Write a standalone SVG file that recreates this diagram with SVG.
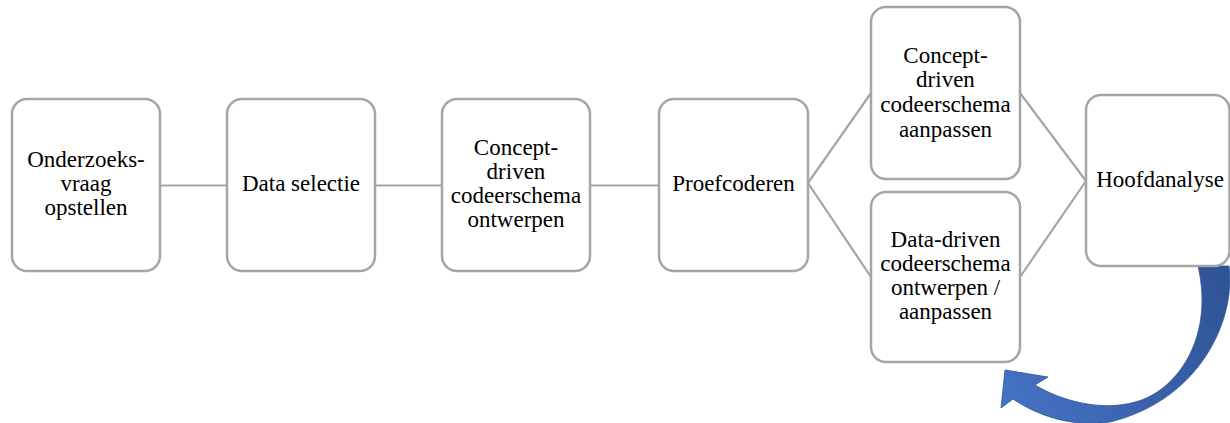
<svg xmlns="http://www.w3.org/2000/svg" width="1230" height="423" viewBox="0 0 1230 423">
<style>
.box{fill:#fff;stroke:#A5A5A5;stroke-width:2.5}
.con{stroke:#A5A5A5;stroke-width:2.2;fill:none}
.t{font-size:23px;fill:#000;text-anchor:middle}
</style>
<defs>
<linearGradient id="g" gradientUnits="userSpaceOnUse" x1="1225" y1="290" x2="1010" y2="400">
<stop offset="0" stop-color="#2F5597"/>
<stop offset="0.5" stop-color="#3A62AC"/>
<stop offset="1" stop-color="#4472C4"/>
</linearGradient>
</defs>
<rect width="1230" height="423" fill="#fff"/>
<g id="connectors">
<line class="con" x1="160" y1="185.5" x2="227" y2="185.5"/>
<line class="con" x1="375" y1="185.5" x2="442" y2="185.5"/>
<line class="con" x1="590" y1="185.5" x2="659" y2="185.5"/>
<line class="con" x1="808" y1="183" x2="871" y2="93"/>
<line class="con" x1="808" y1="183" x2="871" y2="277"/>
<line class="con" x1="1020" y1="93" x2="1086" y2="181"/>
<line class="con" x1="1020" y1="277" x2="1086" y2="181"/>
<path id="loop-arrow" d="M1229,266 C1236,320 1200,400 1110,422 C1070,428 1035,414 1013,399 L1001,408 L1005,370 L1048,377 L1035,385 C1060,400 1100,412 1135,402 C1175,392 1215,340 1198,266 Z" fill="url(#g)" stroke="#2F5597" stroke-width="0.8"/>
</g>
<g font-family="Liberation Serif, DejaVu Serif, serif">
<g id="n1">
<rect class="box" x="12" y="99" width="148" height="172" rx="15"/>
<text class="t" x="86" y="167">Onderzoeks-</text>
<text class="t" x="86" y="191">vraag</text>
<text class="t" x="86" y="215">opstellen</text>
</g>
<g id="n2">
<rect class="box" x="227" y="99" width="148" height="172" rx="15"/>
<text class="t" x="301" y="191">Data selectie</text>
</g>
<g id="n3">
<rect class="box" x="442" y="99" width="148" height="172" rx="15"/>
<text class="t" x="516" y="155">Concept-</text>
<text class="t" x="516" y="179">driven</text>
<text class="t" x="516" y="203">codeerschema</text>
<text class="t" x="516" y="227">ontwerpen</text>
</g>
<g id="n4">
<rect class="box" x="659" y="99" width="149" height="172" rx="15"/>
<text class="t" x="733.5" y="191">Proefcoderen</text>
</g>
<g id="n5">
<rect class="box" x="871" y="7" width="149" height="172" rx="15"/>
<text class="t" x="945.5" y="63">Concept-</text>
<text class="t" x="945.5" y="87">driven</text>
<text class="t" x="945.5" y="112">codeerschema</text>
<text class="t" x="945.5" y="137">aanpassen</text>
</g>
<g id="n6">
<rect class="box" x="871" y="192" width="149" height="170" rx="15"/>
<text class="t" x="945.5" y="247">Data-driven</text>
<text class="t" x="945.5" y="271">codeerschema</text>
<text class="t" x="945.5" y="295">ontwerpen /</text>
<text class="t" x="945.5" y="319">aanpassen</text>
</g>
<g id="n7">
<rect class="box" x="1086" y="95" width="143.5" height="171" rx="15"/>
<text class="t" x="1160" y="187">Hoofdanalyse</text>
</g>
</g>
</svg>
